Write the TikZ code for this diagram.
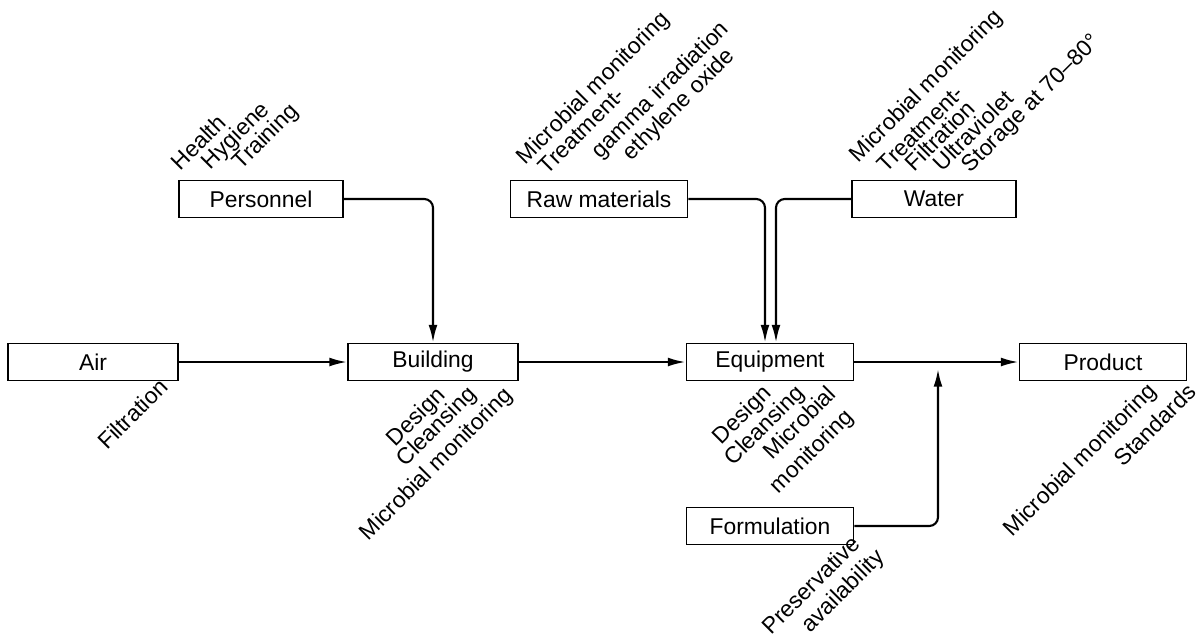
\documentclass[tikz,border=0pt]{standalone}
\usepackage{fontspec}
\setmainfont{Liberation Sans}
\usetikzlibrary{arrows.meta}

\begin{document}
\begin{tikzpicture}[x=0.02cm, y=-0.02cm, font=\fontsize{13}{15}\selectfont,
		>={Latex[length=10pt,width=5pt]}, line width=1.2pt,
		box/.style={draw, line width=1.1pt, minimum width=3.34cm, minimum height=0.74cm, inner sep=0pt},
		lbl/.style={rotate=45, inner sep=0pt}]
	
	\useasboundingbox (0,0) rectangle (1201,637);
	
	\node[box, minimum width=3.28cm] (pers) at (261,199) {Personnel};
	\node[box, minimum width=3.54cm] (raw) at (599,199) {Raw materials};
	\node[box, minimum width=3.28cm] (water) at (934,199) {Water};
	\node[box, minimum width=3.4cm] (air) at (93,362) {Air};
	\node[box, minimum width=3.4cm] (bldg) at (433,362) {Building};
	\node[box] (equip) at (770,362) {Equipment};
	\node[box] (prod) at (1103,362) {Product};
	\node[box] (form) at (770,526) {Formulation};
	
	\coordinate (join) at (938,369);
	
	% flow
	\draw[->] (air) -- (bldg);
	\draw[->] (bldg) -- (equip);
	\draw[->] (equip) -- (prod);
	\draw[->, rounded corners=5pt] (pers.east) -| (bldg.north);
	\draw[->, rounded corners=5pt] (raw.east) -| ([xshift=-0.1cm]equip.north);
	\draw[->, rounded corners=5pt] (water.west) -| ([xshift=0.12cm]equip.north);
	\draw[->, rounded corners=5pt] (form.east) -| (join);
	
	% labels above the boxes
	\foreach \t/\x/\y [count=\i] in {Health/180/172, Hygiene/210/171, Training/241/171,
		Microbial monitoring/525/166, Treatment-/547/176, gamma irradiation/600/160, ethylene oxide/631/162,
		Microbial monitoring/858/164, Treatment-/886/174, Filtration/914/173, Ultraviolet/942/173,
		Storage at 70--80°/970/174}
	\node[lbl, anchor=base west] (up\i) at (\x,\y) {\t};
	
	% labels below the boxes
	\foreach \t/\x/\y [count=\i] in {Filtration/170/388, Design/447/396, Cleansing/478/395,
		Microbial monitoring/514/396, Design/773/394, Cleansing/806/394, Microbial/838/395,
		monitoring/855/418, Preservative/862/545, availability/886/558,
		Microbial monitoring/1158/392, Standards/1198/393}
	\node[lbl, anchor=base east] (dn\i) at (\x,\y) {\t};
	
\end{tikzpicture}
\end{document}
